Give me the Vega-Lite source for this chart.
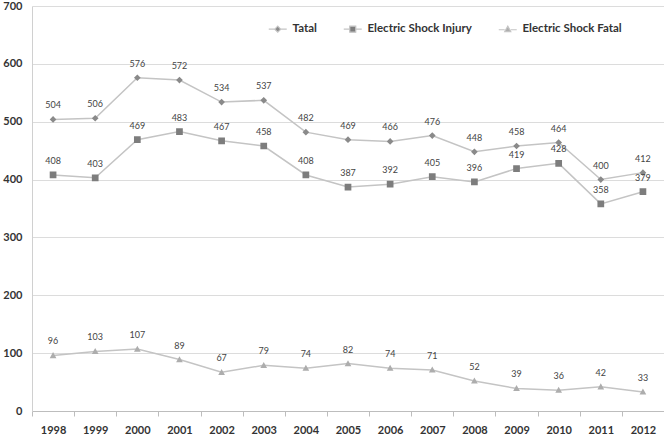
{
  "$schema": "https://vega.github.io/schema/vega-lite/v6.json",
  "autosize": "none",
  "width": 632,
  "height": 405,
  "padding": {"left": 32, "top": 6, "right": 0, "bottom": 32},
  "background": "white",
  "config": {
    "font": "Lato",
    "view": {"stroke": null}
  },
  "data": {
    "values": [
      {"year": "1998", "series": "Tatal", "value": 504},
      {"year": "1999", "series": "Tatal", "value": 506},
      {"year": "2000", "series": "Tatal", "value": 576},
      {"year": "2001", "series": "Tatal", "value": 572},
      {"year": "2002", "series": "Tatal", "value": 534},
      {"year": "2003", "series": "Tatal", "value": 537},
      {"year": "2004", "series": "Tatal", "value": 482},
      {"year": "2005", "series": "Tatal", "value": 469},
      {"year": "2006", "series": "Tatal", "value": 466},
      {"year": "2007", "series": "Tatal", "value": 476},
      {"year": "2008", "series": "Tatal", "value": 448},
      {"year": "2009", "series": "Tatal", "value": 458},
      {"year": "2010", "series": "Tatal", "value": 464},
      {"year": "2011", "series": "Tatal", "value": 400},
      {"year": "2012", "series": "Tatal", "value": 412},
      {"year": "1998", "series": "Electric Shock Injury", "value": 408},
      {"year": "1999", "series": "Electric Shock Injury", "value": 403},
      {"year": "2000", "series": "Electric Shock Injury", "value": 469},
      {"year": "2001", "series": "Electric Shock Injury", "value": 483},
      {"year": "2002", "series": "Electric Shock Injury", "value": 467},
      {"year": "2003", "series": "Electric Shock Injury", "value": 458},
      {"year": "2004", "series": "Electric Shock Injury", "value": 408},
      {"year": "2005", "series": "Electric Shock Injury", "value": 387},
      {"year": "2006", "series": "Electric Shock Injury", "value": 392},
      {"year": "2007", "series": "Electric Shock Injury", "value": 405},
      {"year": "2008", "series": "Electric Shock Injury", "value": 396},
      {"year": "2009", "series": "Electric Shock Injury", "value": 419},
      {"year": "2010", "series": "Electric Shock Injury", "value": 428},
      {"year": "2011", "series": "Electric Shock Injury", "value": 358},
      {"year": "2012", "series": "Electric Shock Injury", "value": 379},
      {"year": "1998", "series": "Electric Shock Fatal", "value": 96},
      {"year": "1999", "series": "Electric Shock Fatal", "value": 103},
      {"year": "2000", "series": "Electric Shock Fatal", "value": 107},
      {"year": "2001", "series": "Electric Shock Fatal", "value": 89},
      {"year": "2002", "series": "Electric Shock Fatal", "value": 67},
      {"year": "2003", "series": "Electric Shock Fatal", "value": 79},
      {"year": "2004", "series": "Electric Shock Fatal", "value": 74},
      {"year": "2005", "series": "Electric Shock Fatal", "value": 82},
      {"year": "2006", "series": "Electric Shock Fatal", "value": 74},
      {"year": "2007", "series": "Electric Shock Fatal", "value": 71},
      {"year": "2008", "series": "Electric Shock Fatal", "value": 52},
      {"year": "2009", "series": "Electric Shock Fatal", "value": 39},
      {"year": "2010", "series": "Electric Shock Fatal", "value": 36},
      {"year": "2011", "series": "Electric Shock Fatal", "value": 42},
      {"year": "2012", "series": "Electric Shock Fatal", "value": 33}
    ]
  },
  "encoding": {
    "x": {
      "field": "year",
      "type": "ordinal",
      "scale": {"type": "band", "paddingInner": 0, "paddingOuter": 0},
      "axis": {
        "title": null,
        "labelAngle": 0,
        "labelFont": "Lato",
        "labelFontWeight": "bold",
        "labelFontSize": 11,
        "labelColor": "#333333",
        "labelPadding": 8,
        "tickBand": "extent",
        "tickSize": 5,
        "tickColor": "#bdbdbd",
        "domainColor": "#bdbdbd",
        "grid": false
      }
    },
    "y": {
      "field": "value",
      "type": "quantitative",
      "scale": {"domain": [0, 700], "nice": false},
      "axis": {
        "title": null,
        "values": [0, 100, 200, 300, 400, 500, 600, 700],
        "labelFont": "Lato",
        "labelFontWeight": "bold",
        "labelFontSize": 11,
        "labelColor": "#333333",
        "labelPadding": 10,
        "ticks": false,
        "domainColor": "#d0d0d0",
        "gridColor": "#dcdcdc",
        "gridWidth": 1
      }
    }
  },
  "layer": [
    {
      "mark": {"type": "line", "color": "#c4c4c4", "strokeWidth": 1.5},
      "encoding": {"detail": {"field": "series"}}
    },
    {
      "mark": {"type": "point", "filled": true, "opacity": 1, "size": 45},
      "encoding": {
        "shape": {
          "field": "series",
          "type": "nominal",
          "scale": {
            "domain": ["Tatal", "Electric Shock Injury", "Electric Shock Fatal"],
            "range": [
              "M-3,0H-1M1,0H3M0,-1L1,0L0,1L-1,0Z",
              "M-3,0H-1M1,0H3M-1,-1H1V1H-1Z",
              "M-3,0.2H-1M1,0.2H3M0,-1L1,0.8H-1Z"
            ]
          },
          "legend": {
            "title": null,
            "orient": "none",
            "direction": "horizontal",
            "legendX": 240,
            "legendY": 17,
            "labelFont": "Lato",
            "labelFontWeight": "bold",
            "labelFontSize": 11.5,
            "labelColor": "#333333",
            "labelOffset": 9,
            "columnPadding": 24,
            "symbolSize": 36,
            "symbolStrokeColor": "#c4c4c4",
            "symbolStrokeWidth": 1.2,
            "encode": {
              "symbols": {
                "update": {
                  "stroke": {"value": "#c4c4c4"},
                  "strokeWidth": {"value": 1.2},
                  "strokeOpacity": {"value": 1}
                }
              }
            }
          }
        },
        "color": {
          "field": "series",
          "type": "nominal",
          "scale": {
            "domain": ["Tatal", "Electric Shock Injury", "Electric Shock Fatal"],
            "range": ["#8a8a8a", "#7d7d7d", "#adadad"]
          },
          "legend": {
            "title": null,
            "orient": "none",
            "direction": "horizontal",
            "legendX": 240,
            "legendY": 17,
            "labelFont": "Lato",
            "labelFontWeight": "bold",
            "labelFontSize": 11.5,
            "labelColor": "#333333",
            "labelOffset": 9,
            "columnPadding": 24,
            "symbolSize": 36,
            "symbolStrokeColor": "#c4c4c4",
            "symbolStrokeWidth": 1.2,
            "encode": {
              "symbols": {
                "update": {
                  "stroke": {"value": "#c4c4c4"},
                  "strokeWidth": {"value": 1.2},
                  "strokeOpacity": {"value": 1}
                }
              }
            }
          }
        }
      }
    },
    {
      "mark": {"type": "text", "dy": -14, "fontSize": 9, "font": "Lato", "color": "#444444"},
      "encoding": {"text": {"field": "value", "type": "quantitative"}}
    }
  ]
}
